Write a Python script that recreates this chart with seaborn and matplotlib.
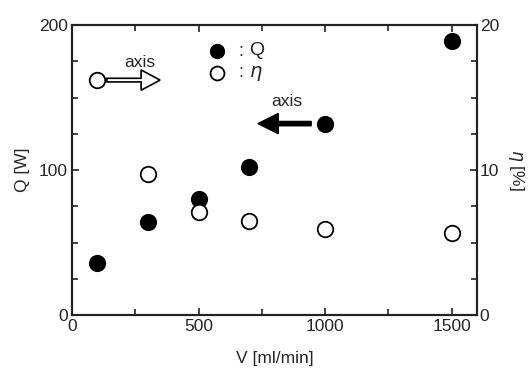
import matplotlib
matplotlib.use("Agg")
import matplotlib.pyplot as plt
import seaborn as sns
import pandas as pd
from matplotlib.ticker import MultipleLocator
from matplotlib.patches import FancyArrow

V = [100, 300, 500, 700, 1000, 1500]
Q = [36, 64, 80, 102, 132, 189]
eta = [16.2, 9.7, 7.1, 6.5, 5.9, 5.65]

sns.set_style("ticks")
plt.rcParams['font.family'] = ['Liberation Sans', 'DejaVu Sans']
plt.rcParams['mathtext.fontset'] = 'dejavusans'

df = pd.DataFrame({"V": V, "Q": Q, "eta": eta})

fig = plt.figure(figsize=(5.32, 3.72), dpi=100)
ax = fig.add_axes([0.1353, 0.1532, 0.7613, 0.7796])
ax2 = ax.twinx()

sns.scatterplot(data=df, x="V", y="Q", ax=ax, s=125, color="black",
                edgecolor="black", linewidth=1.2, zorder=3, legend=False)
sns.scatterplot(data=df, x="V", y="eta", ax=ax2, s=125, facecolor="white",
                edgecolor="black", linewidth=1.3, zorder=3, legend=False)

ax.set_xlim(0, 1600)
ax.set_ylim(0, 200)
ax2.set_ylim(0, 20)

ax.xaxis.set_major_locator(MultipleLocator(500))
ax.xaxis.set_minor_locator(MultipleLocator(250))
ax.yaxis.set_major_locator(MultipleLocator(100))
ax.yaxis.set_minor_locator(MultipleLocator(25))
ax2.yaxis.set_major_locator(MultipleLocator(10))
ax2.yaxis.set_minor_locator(MultipleLocator(2.5))

for a in (ax, ax2):
    for sp in a.spines.values():
        sp.set_visible(True)
        sp.set_linewidth(1.5)
        sp.set_color("#222222")

ax.tick_params(axis='both', which='both', direction='in', labelsize=12.5,
               color="#222222", width=1.2)
ax.tick_params(axis='x', which='both', top=True, labeltop=False)
ax.tick_params(which='major', length=5, pad=3)
ax.tick_params(which='minor', length=4)
ax2.tick_params(axis='y', which='both', direction='in', labelsize=12.5,
                color="#222222", width=1.2, pad=2)
ax2.tick_params(which='major', length=5)
ax2.tick_params(which='minor', length=4)

ax.set_xlabel("V [ml/min]", fontsize=12.5, labelpad=12)
ax.set_ylabel("Q [W]", fontsize=12.5, labelpad=6)
ax2.set_ylabel(r"$\eta$ [%]", fontsize=12.5, rotation=270, labelpad=19)

# legend (manual)
ax.scatter([571], [182], s=100, color="black", zorder=4)
ax.scatter([571], [167], s=100, facecolor="white", edgecolor="black",
           linewidth=1.3, zorder=4)
ax.text(665, 182, ":", fontsize=13, va="center", ha="center")
ax.text(665, 167, ":", fontsize=13, va="center", ha="center")
ax.text(700, 182.5, "Q", fontsize=14, va="center", ha="left")
ax.text(700, 166.5, r"$\eta$", fontsize=14, va="center", ha="left")

# hollow arrow pointing right (eta -> right axis)
ax.add_patch(FancyArrow(138, 162, 210, 0, width=2.5, head_width=14,
                        head_length=75, length_includes_head=True,
                        facecolor="white", edgecolor="black", linewidth=1.2,
                        zorder=4))
ax.text(268, 174, "axis", fontsize=12.5, ha="center", va="center")

# filled arrow pointing left (Q -> left axis)
ax.add_patch(FancyArrow(945, 132, -210, 0, width=3, head_width=14,
                        head_length=80, length_includes_head=True,
                        facecolor="black", edgecolor="black", linewidth=1,
                        zorder=4))
ax.text(850, 147, "axis", fontsize=12.5, ha="center", va="center")

fig.savefig("out.png", dpi=100)
